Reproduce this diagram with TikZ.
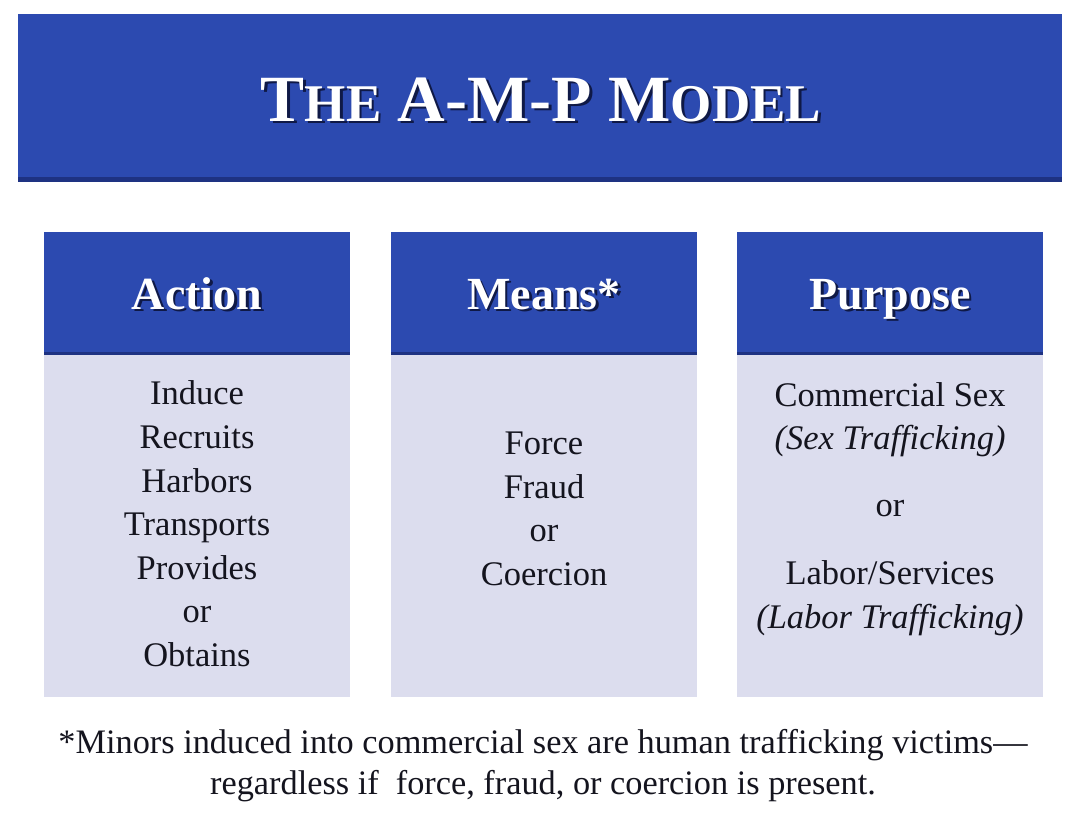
\documentclass[tikz,border=0pt]{standalone}
\usepackage{fontspec}
\setmainfont{Liberation Serif}
\definecolor{ampblue}{RGB}{44,74,176}
\definecolor{ampedge}{RGB}{30,50,130}
\definecolor{ampbody}{RGB}{220,221,238}
\definecolor{ampshadow}{RGB}{15,25,70}
\definecolor{amptext}{RGB}{20,20,30}
\newcommand\ampsc[1]{{\fontsize{53}{60}\selectfont #1}}
\newcommand\amptitle{T\ampsc{HE} A-M-P M\ampsc{ODEL}}
\newcommand\ampshad[1]{\makebox[0pt][l]{\hspace{2.5pt}\raisebox{-2.5pt}{\color{ampshadow}#1}}#1}
\begin{document}
\begin{tikzpicture}[x=1pt,y=-1pt,
  panel/.style={draw=none, inner sep=0pt, outer sep=0pt, anchor=north west},
  head/.style={panel, fill=ampblue, minimum width=306pt, minimum height=123pt},
  bodybox/.style={panel, fill=ampbody, minimum width=306pt, minimum height=342pt},
  titletext/.style={inner sep=0pt, anchor=base, text=white, font=\bfseries\fontsize{66}{70}\selectfont},
  headtext/.style={inner sep=0pt, anchor=base, text=white, font=\bfseries\fontsize{46}{50}\selectfont},
  line/.style={inner sep=0pt, anchor=base, text=amptext, font=\fontsize{34.5}{40}\selectfont},
  iline/.style={line, font=\itshape\fontsize{34.5}{40}\selectfont},
  foot/.style={inner sep=0pt, anchor=base, text=amptext, font=\fontsize{34.3}{40}\selectfont}]
\useasboundingbox (0,0) rectangle (1076,836);
\fill[white] (0,0) rectangle (1076,836);

% banner
\node[panel, fill=ampblue, minimum width=1044pt, minimum height=168pt] (banner) at (18,14) {};
\fill[ampedge] (18,177) rectangle (1062,182);
\node[titletext] (title) at (541,121) {\ampshad{\amptitle}};

% column boxes
\node[head] (hA) at (44,232) {};
\node[head] (hM) at (391,232) {};
\node[head] (hP) at (737,232) {};
\node[bodybox] (bA) at (44,355) {};
\node[bodybox] (bM) at (391,355) {};
\node[bodybox] (bP) at (737,355) {};
\foreach \n in {hA,hM,hP}{
  \fill[ampedge] (\n.south west) ++(0,-3) rectangle (\n.south east);
}

% headers
\node[headtext] (tA) at (197,309) {\ampshad{Action}};
\node[headtext] (tM) at (544,309) {\ampshad{Means*}};
\node[headtext] (tP) at (890,309) {\ampshad{Purpose}};

% Action list
\foreach \y/\t [count=\i] in {404/Induce, 448/Recruits, 492/Harbors, 535/Transports, 579/Provides, 622/or, 666/Obtains}{
  \node[line] (a\i) at (197,\y) {\t};
}
% Means list
\foreach \y/\t [count=\i] in {454/Force, 498/Fraud, 541/or, 585/Coercion}{
  \node[line] (m\i) at (544,\y) {\t};
}
% Purpose list
\node[line] (p1) at (890,406) {Commercial Sex};
\node[iline] (p2) at (890,449) {(Sex Trafficking)};
\node[line] (p3) at (890,516) {or};
\node[line] (p4) at (890,584) {Labor/Services};
\node[iline] (p5) at (890,628) {(Labor Trafficking)};

% footnote
\node[foot] (f1) at (543,753) {*Minors induced into commercial sex are human trafficking victims—};
\node[foot] (f2) at (543,794) {regardless if\ \ force, fraud, or coercion is present.};
\end{tikzpicture}
\end{document}
